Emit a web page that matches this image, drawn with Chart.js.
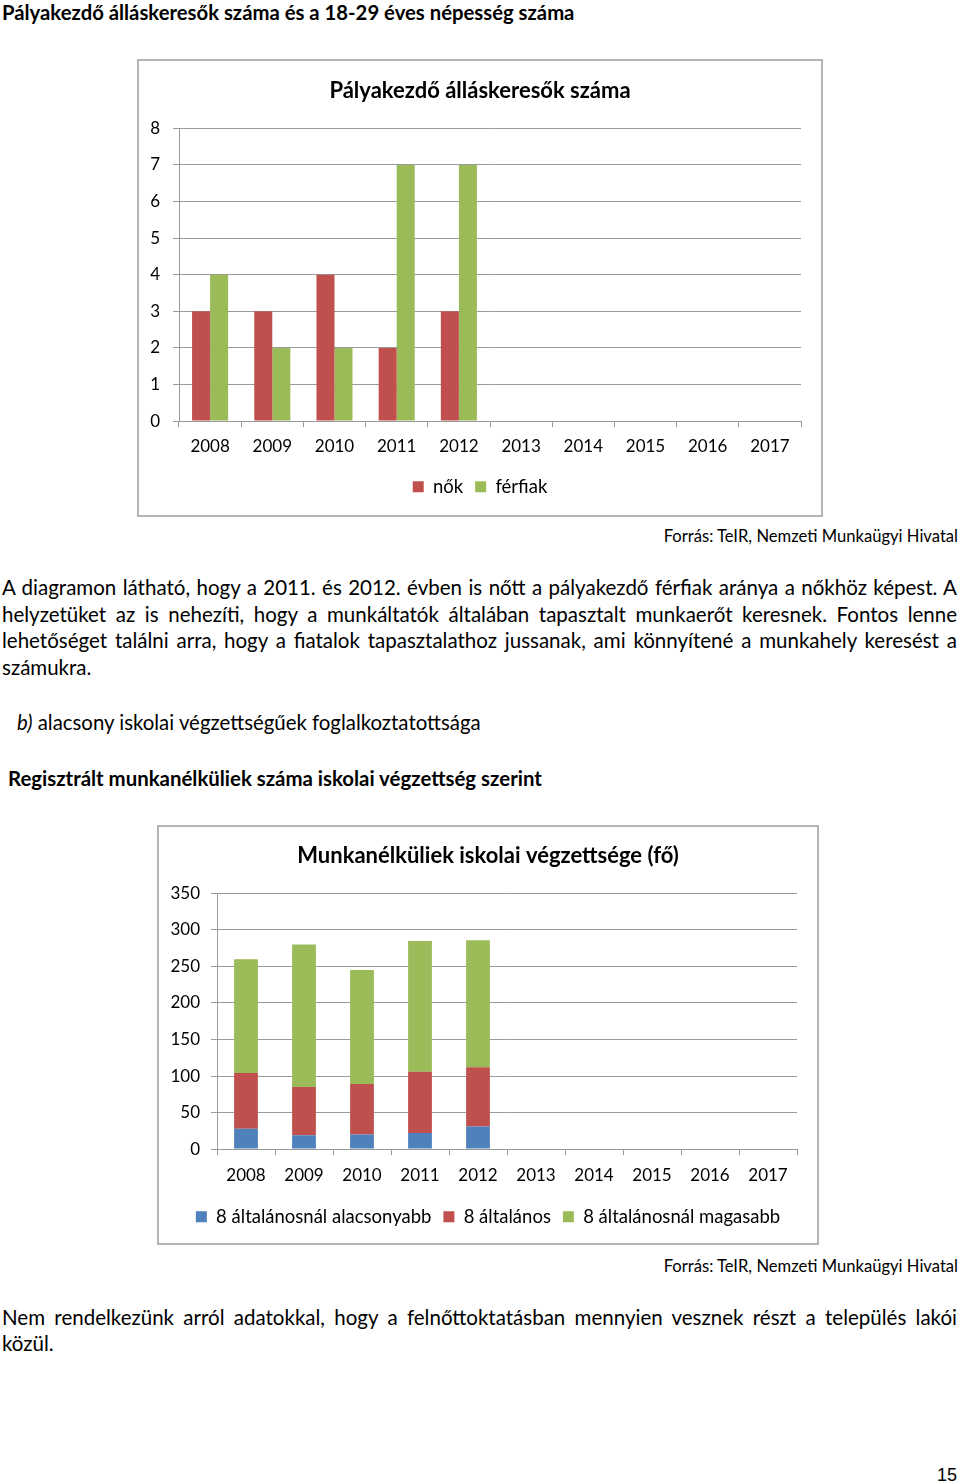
<!DOCTYPE html>
<html>
<head>
<meta charset="utf-8">
<script src="https://cdn.jsdelivr.net/npm/chart.js@4/dist/chart.umd.min.js"></script>
<style>
  body { margin: 0; background: #fff; width: 960px; height: 1482px; position: relative; overflow: hidden; font-family: Lato, "Open Sans", sans-serif; color: #000; }
  .t { position: absolute; white-space: nowrap; }
  .j { position: absolute; left: 2px; width: 955px; font-size: 20.5px; line-height: 26px; text-align: justify; text-align-last: justify; white-space: nowrap; }
  .box { position: absolute; border: 2px solid #b4b4b4; background: #fff; }
  .src { position: absolute; right: 2px; font-size: 16.6px; line-height: 20px; }
</style>
</head>
<body>
<div class="t" style="left:2px;top:1px;font-weight:bold;font-size:20.3px;line-height:22px;">Pályakezdő álláskeresők száma és a 18-29 éves népesség száma</div>

<div class="box" style="left:137px;top:59px;width:682px;height:454px;">
  <canvas id="chart1" width="682" height="454"></canvas>
</div>
<div class="src" style="top:526px;">Forrás: TeIR, Nemzeti Munkaügyi Hivatal</div>

<div class="j" style="top:574px;">A diagramon látható, hogy a 2011. és 2012. évben is nőtt a pályakezdő férfiak aránya a nőkhöz képest. A</div>
<div class="j" style="top:601px;">helyzetüket az is nehezíti, hogy a munkáltatók általában tapasztalt munkaerőt keresnek. Fontos lenne</div>
<div class="j" style="top:627px;">lehetőséget találni arra, hogy a fiatalok tapasztalathoz jussanak, ami könnyítené a munkahely keresést a</div>
<div class="t" style="left:2px;top:654px;font-size:20.5px;line-height:26px;">számukra.</div>

<div class="t" style="left:17px;top:709px;font-size:20.4px;line-height:26px;"><i>b)</i> alacsony iskolai végzettségűek foglalkoztatottsága</div>
<div class="t" style="left:8px;top:766px;font-weight:bold;font-size:20.4px;line-height:24px;">Regisztrált munkanélküliek száma iskolai végzettség szerint</div>

<div class="box" style="left:157px;top:825px;width:658px;height:416px;">
  <canvas id="chart2" width="658" height="416"></canvas>
</div>
<div class="src" style="top:1256px;">Forrás: TeIR, Nemzeti Munkaügyi Hivatal</div>

<div class="j" style="top:1304px;">Nem rendelkezünk arról adatokkal, hogy a felnőttoktatásban mennyien vesznek részt a település lakói</div>
<div class="t" style="left:2px;top:1330px;font-size:20.5px;line-height:26px;">közül.</div>

<div class="t" style="right:3px;top:1464px;font-family:'Liberation Sans',Arial,sans-serif;font-size:18px;line-height:22px;">15</div>

<script>
var years = ["2008", "2009", "2010", "2011", "2012", "2013", "2014", "2015", "2016", "2017"];

// Pályakezdő álláskeresők
var nok = [3, 3, 4, 2, 3, null, null, null, null, null];
var ferfiak = [4, 2, 2, 7, 7, null, null, null, null, null];

// Munkanélküliek iskolai végzettsége (fő)
var alacsonyabb = [28, 19, 20, 22, 31, null, null, null, null, null];
var altalanos = [76, 66, 69, 84, 81, null, null, null, null, null];
var magasabb = [156, 195, 156, 179, 174, null, null, null, null, null];

var red = "#c0504d";
var green = "#9bbb59";
var blue = "#4f81bd";
var gridColor = "#9a9a9a";
var fontFam = "Lato, 'Open Sans', sans-serif";

Chart.defaults.font.family = fontFam;
Chart.defaults.color = "#000";

function xAxis(pad) {
    return {
        border: { color: gridColor, width: 1 },
        grid: { drawOnChartArea: false, drawTicks: true, tickLength: 6, color: gridColor, offset: true },
        ticks: { font: { size: 17 }, padding: pad, color: "#000", maxRotation: 0 },
    };
}

// fixed axis width so the plot lines up with the box
function yAxis(max, step, pad, width) {
    return {
        min: 0,
        max: max,
        border: { color: gridColor, width: 1 },
        grid: { color: gridColor, lineWidth: 1, tickLength: 6 },
        ticks: { stepSize: step, font: { size: 17 }, padding: pad, color: "#000" },
        afterFit: function (scale) { scale.width = width; },
    };
}

// empty right-side spacer, keeps title and legend centred on the box
function spacer(width) {
    return {
        type: "linear",
        position: "right",
        display: true,
        grid: { display: false },
        ticks: { display: false },
        border: { display: false },
        afterFit: function (scale) { scale.width = width; },
    };
}

new Chart(document.getElementById("chart1").getContext("2d"), {
    type: "bar",
    data: {
        labels: years,
        datasets: [
            { label: "nők", data: nok, backgroundColor: red, categoryPercentage: 0.58, barPercentage: 1 },
            { label: "férfiak", data: ferfiak, backgroundColor: green, categoryPercentage: 0.58, barPercentage: 1 },
        ],
    },
    options: {
        responsive: false,
        animation: false,
        layout: { padding: { left: 0, right: 0, top: 0, bottom: 9 } },
        scales: {
            x: xAxis(9),
            y: yAxis(8, 1, 13, 40),
            pad: spacer(20),
        },
        plugins: {
            title: {
                display: true,
                text: "Pályakezdő álláskeresők száma",
                font: { size: 22, weight: "bold" },
                color: "#000",
                padding: { top: 17, bottom: 24 },
            },
            legend: {
                position: "bottom",
                labels: { boxWidth: 11, boxHeight: 11, font: { size: 18.5 }, padding: 12 },
            },
            tooltip: { enabled: false },
        },
    },
});

new Chart(document.getElementById("chart2").getContext("2d"), {
    type: "bar",
    data: {
        labels: years,
        datasets: [
            { label: "8 általánosnál alacsonyabb", data: alacsonyabb, backgroundColor: blue },
            { label: "8 általános", data: altalanos, backgroundColor: red },
            { label: "8 általánosnál magasabb", data: magasabb, backgroundColor: green },
        ],
    },
    options: {
        responsive: false,
        animation: false,
        datasets: { bar: { categoryPercentage: 0.41, barPercentage: 1 } },
        layout: { padding: { left: 0, right: 0, top: 0, bottom: 7 } },
        scales: {
            x: Object.assign(xAxis(10), { stacked: true }),
            y: Object.assign(yAxis(350, 50, 11, 58), { stacked: true }),
            pad: spacer(20),
        },
        plugins: {
            title: {
                display: true,
                text: "Munkanélküliek iskolai végzettsége (fő)",
                font: { size: 22, weight: "bold" },
                color: "#000",
                padding: { top: 16, bottom: 24 },
            },
            legend: {
                position: "bottom",
                labels: { boxWidth: 11, boxHeight: 11, font: { size: 18.5 }, padding: 12 },
            },
            tooltip: { enabled: false },
        },
    },
});
</script>
</body>
</html>
